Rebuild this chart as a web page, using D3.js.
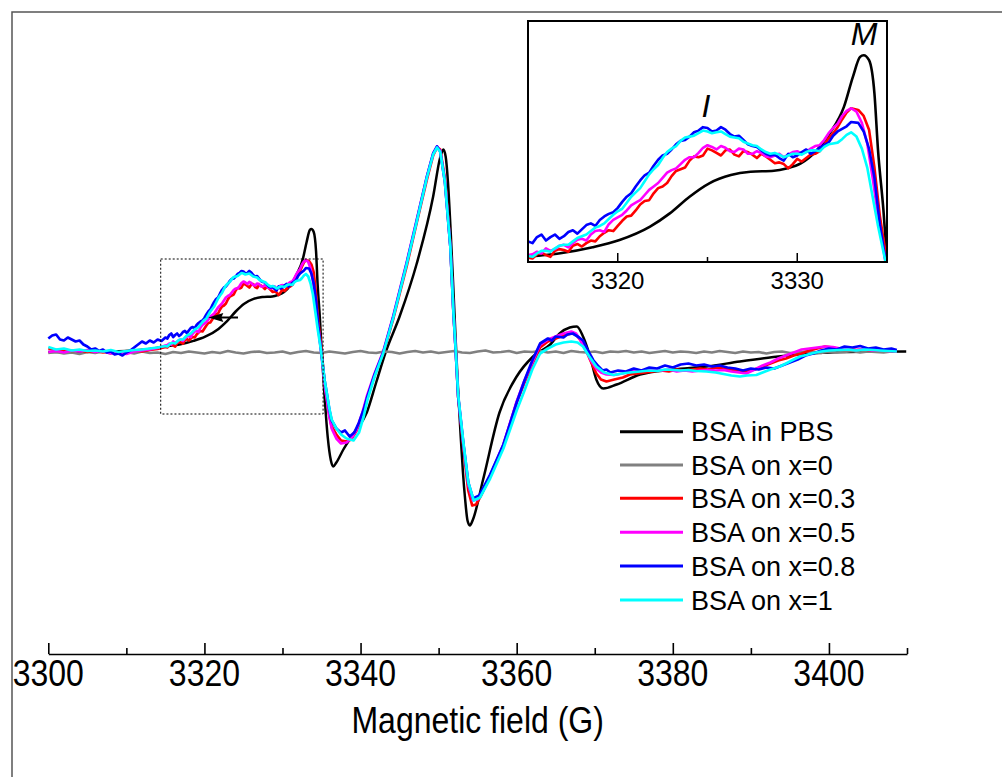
<!DOCTYPE html>
<html>
<head>
<meta charset="utf-8">
<title>EPR spectra of BSA</title>
<script src="https://cdn.jsdelivr.net/npm/d3@7"></script>
<style>
  html, body { margin: 0; padding: 0; background: #fff; }
  svg { display: block; font-family: "Liberation Sans", Arial, sans-serif; }
</style>
</head>
<body>
<svg id="chart" width="1002" height="777"></svg>
<script>
'use strict';

// each series: [magnetic field (G), signal (a.u.)]
const bsaInPBS = [
  [3300,0.5],[3303,0.5],[3306,0.8],[3309,1.2],[3311,2],[3313,3.5],[3314.3,5],[3315.1,6.1],[3316.8,8.1],
  [3318.6,11.6],[3320.1,15.8],[3321.8,23.6],[3322.9,31.3],[3324.0,41.0],[3325.1,48.8],[3326.3,53.6],
  [3327.4,55.5],[3328.7,56.1],[3329.4,57.5],[3330.2,60.4],[3331.1,68.1],[3331.8,77.8],[3332.6,93.3],
  [3333.1,110.8],[3333.5,122.4],[3333.7,123.4],[3334.0,120.5],[3334.3,101.1],[3334.5,68.1],[3334.8,33.3],
  [3335.0,4.2],[3335.4,-45],[3335.8,-85],[3336.2,-108],[3336.5,-114],[3336.9,-110],[3337.8,-97],
  [3339.2,-80],[3340.8,-60],[3342.0,-30],[3343.2,0],[3345.0,36],[3347.2,89],[3349.3,156],[3350.2,195],
  [3350.6,203],[3350.9,196],[3351.2,170],[3351.5,128],[3351.9,62],[3352.2,10],[3352.5,-38],[3352.8,-80],
  [3353.1,-118],[3353.4,-147],[3353.7,-168],[3354.0,-173],[3354.4,-167],[3355.7,-127],[3357.8,-60],
  [3360.0,-24],[3362.1,-4],[3364.3,8],[3365.5,19],[3366.8,25],[3367.7,26],[3368.5,16],[3369.4,-4],
  [3370.2,-27],[3371.1,-36],[3372.8,-32],[3375.8,-22],[3380.1,-17],[3384.3,-14],[3388.6,-9],
  [3392.9,-4.6],[3397.1,-1.3],[3401.4,0.4],[3405,0.8],[3409.9,1]
];

const bsaX0 = [
  [3300,-0.5],[3301,0.5],[3302,-1],[3303,0],[3304,-1.5],[3305,0.5],[3306,-0.5],[3307,1],[3308,-1],[3309,0],
  [3310,0.5],[3311,-1],[3312,1],[3313,-0.5],[3314,0],[3315,-1.5],[3316,0.5],[3317,-0.5],[3318,1],[3319,0],
  [3320,-1],[3321,0.5],[3322,-0.5],[3323,1.5],[3324,0],[3325,-1],[3326,0.5],[3327,1],[3328,-0.5],[3329,0],
  [3330,1],[3331,-1],[3332,0.5],[3333,1.5],[3334,0],[3335,-0.5],[3336,1],[3337,0],[3338,-1],[3339,0.5],
  [3340,1.5],[3341,0],[3342,-0.5],[3343,1],[3344,0.5],[3345,-1],[3346,0.5],[3347,1.5],[3348,0],[3349,1],
  [3350,-0.5],[3351,0.5],[3352,1.5],[3353,0],[3354,-0.5],[3355,1],[3356,2],[3357,0],[3358,0.5],[3359,1.5],
  [3360,-0.5],[3361,1],[3362,0.5],[3363,1.5],[3364,0],[3365,1],[3366,-0.5],[3367,1.5],[3368,0.5],[3369,0],
  [3370,1],[3371,-0.5],[3372,1],[3373,0.5],[3374,1.5],[3375,0],[3376,1],[3377,-0.5],[3378,0.5],[3379,1.5],
  [3380,0],[3381,1],[3382,0.5],[3383,-0.5],[3384,1],[3385,0],[3386,1.5],[3387,0.5],[3388,-0.5],[3389,1],
  [3390,0],[3391,0.5],[3392,-1],[3393,0.5],[3394,1],[3395,-0.5],[3396,0],[3397,1],[3398,0.5],[3399,-0.5],
  [3400,1],[3401,0],[3402,0.5],[3403,1.5],[3404,0],[3405,1],[3406,0.5],[3407,0],[3408,1]
];

const bsaX03 = [
  [3300,4],[3301,2.5],[3302,3],[3303,1.5],[3304,2],[3305,0.5],[3306,1.5],[3307,0],[3308,1],[3309,-0.5],
  [3310,1.5],[3311,2],[3312,1],[3313,2.5],[3314,3.5],[3315,5.5],
  [3315.25,5],[3315.5,7.5],[3315.75,8.5],[3316,7],[3316.25,6],[3316.5,9.5],[3316.75,10.5],[3317,10],
  [3317.25,9],[3317.5,12.5],[3317.75,13.5],[3318,12],[3318.25,14],[3318.5,15.5],[3318.75,15],[3319,18],
  [3319.25,20],[3319.5,21.5],[3319.75,21],[3320,24],[3320.25,27],[3320.5,29.5],[3320.75,30],[3321,33],
  [3321.25,36.5],[3321.5,38.5],[3321.75,39],[3322,43],[3322.25,46],[3322.5,47],[3322.75,49],[3323,53],
  [3323.25,56],[3323.5,57],[3323.75,58],[3324,62],[3324.25,64.5],[3324.5,64],[3324.75,65],[3325,69],
  [3325.25,68],[3325.5,66.5],[3325.75,65],[3326,68],[3326.25,68.5],[3326.5,65.5],[3326.75,64.5],[3327,67.5],
  [3327.25,67],[3327.5,65.5],[3327.75,63.5],[3328,66],[3328.25,64.5],[3328.5,62.5],[3328.75,60.5],[3329,61],
  [3329.25,60],[3329.5,57.5],[3329.75,60],[3330,63],[3330.25,61.5],[3330.5,63.5],[3330.75,65.5],[3331,66],
  [3331.25,67.5],[3331.5,71],[3331.75,75],[3332,78],[3332.25,81.5],[3332.5,86],[3332.75,90],
  [3333,92.5],[3333.4,91.5],[3333.7,88],[3334,80],[3334.3,58],[3334.6,30],[3335,3],
  [3335.4,-32],[3335.7,-47],[3336,-63],[3336.3,-74],[3336.9,-82],[3337.5,-88],[3338.2,-89],[3338.8,-87],
  [3339.5,-78],[3340.2,-63],[3340.8,-47],[3341.8,-23],[3342.9,-1],[3344.2,34],[3345.9,86],[3347.2,130],
  [3348.5,173],[3349.3,197],[3349.8,205],[3350.2,203],[3350.8,174],[3351.5,108],[3351.9,41],[3352.2,1],
  [3352.5,-44],[3353.2,-97],[3353.8,-138],[3354.3,-153],[3354.8,-152],[3355.5,-142],[3356.6,-124],
  [3358.3,-93],[3360,-50],[3361,-30],[3362,-12],[3363,5],[3364,11],[3365,14],[3366,17],[3367,19],
  [3367.6,18],[3368.2,12],[3368.9,2],[3369.5,-9],[3370.2,-21],[3370.8,-27],[3371.5,-29],[3372.5,-27],
  [3373.6,-25],[3374.5,-22],[3375.5,-21],[3376.5,-20],[3377.5,-19],[3378.5,-18],[3379.5,-19],[3380.5,-17],
  [3381.5,-18],[3382.5,-17],[3383.5,-16],[3384.5,-17],[3385.5,-15],[3386.5,-16],[3387.5,-17],[3388.5,-18],
  [3389.4,-19],[3390.5,-17],[3391.5,-14],[3392.5,-11],[3393.5,-8],[3394.5,-6],[3395.5,-3],[3396.5,-1],
  [3397.5,2],[3398.5,4],[3399.5,6],[3400.5,5],[3401.5,3],[3402.5,4],[3403.5,2.5],[3404.5,3],[3405.5,2],
  [3406.5,2.5],[3407.5,1.5],[3408.7,1]
];

const bsaX05 = [
  [3300,0.5],[3301,1.5],[3302,0],[3303,2],[3304,1],[3305,2.5],[3306,0.5],[3307,1.5],[3308,-1],[3309,0],
  [3310,-1.5],[3311,1],[3312,2],[3313,3],[3314,4.5],[3315,7],
  [3315.25,7.5],[3315.5,9],[3315.75,8],[3316,11],[3316.25,9.5],[3316.5,10.5],[3316.75,12.5],[3317,13],
  [3317.25,11.5],[3317.5,14],[3317.75,16],[3318,16.5],[3318.25,15.5],[3318.5,19],[3318.75,21],[3319,21.5],
  [3319.25,20.5],[3319.5,25],[3319.75,27.5],[3320,29],[3320.25,30.5],[3320.5,33],[3320.75,36],[3321,37.5],
  [3321.25,39],[3321.5,42],[3321.75,45],[3322,47],[3322.25,49],[3322.5,52],[3322.75,55],[3323,56.5],
  [3323.25,57.5],[3323.5,60],[3323.75,62.5],[3324,64],[3324.25,64],[3324.5,66.5],[3324.75,69.5],[3325,71],
  [3325.25,70],[3325.5,68.5],[3325.75,70.5],[3326,69.5],[3326.25,67.5],[3326.5,67],[3326.75,69],[3327,68.5],
  [3327.25,66],[3327.5,66],[3327.75,67.5],[3328,66.5],[3328.25,64.5],[3328.5,64],[3328.75,65],[3329,66],
  [3329.25,64],[3329.5,65.5],[3329.75,67],[3330,67.5],[3330.25,66],[3330.5,67],[3330.75,69],[3331,70.5],
  [3331.25,71],[3331.5,74],[3331.75,78],[3332,81],[3332.25,83.5],[3332.5,88],[3332.75,91],
  [3333,92.5],[3333.3,90.5],[3333.6,84],[3333.9,72],[3334.2,52],[3334.5,30],[3334.9,4],
  [3335.4,-33],[3335.7,-48],[3336,-64],[3336.3,-76],[3336.9,-86],[3337.5,-91],[3338.2,-90],[3338.8,-86],
  [3339.5,-77],[3340.2,-61],[3340.8,-44],[3341.8,-21],[3342.9,1],[3344.2,37],[3345.9,90],[3347.2,133],
  [3348.5,176],[3349.3,199],[3349.8,206],[3350.2,202],[3350.8,172],[3351.5,106],[3351.9,39],[3352.2,0],
  [3352.5,-43],[3353.2,-94],[3353.8,-132],[3354.4,-148],[3355,-147],[3355.6,-140],[3356.6,-123],
  [3358.3,-92],[3360,-49],[3361,-28],[3362,-10],[3363,8],[3364,13],[3365,16],[3366,19],[3367,21],
  [3367.6,19],[3368.2,12],[3368.9,2],[3369.5,-8],[3370.2,-16],[3370.8,-20],[3371.5,-22],[3372.5,-22.5],
  [3373.5,-21],[3374.5,-19],[3375.5,-18],[3376.5,-17.5],[3377.5,-17],[3378.5,-18],[3379.5,-17],[3380.5,-19],
  [3381.5,-18],[3382.5,-19],[3383.5,-18],[3384.5,-17.5],[3385.5,-18],[3386.5,-17.5],[3387.5,-19],
  [3388.5,-20],[3389.4,-21],[3390.5,-17],[3391.5,-13],[3392.5,-10],[3393.5,-6],[3394.5,-3],[3395.5,0],
  [3396.5,3],[3397.5,4],[3398.5,5],[3399.5,6],[3400.5,5.5],[3401.5,4],[3402.5,3],[3403.5,2.5],[3404.5,3.5],
  [3405.5,2],[3406.5,2.5],[3407.5,1.5],[3408.7,1]
];

const bsaX08 = [
  [3300,14],[3300.5,17],[3301,18],[3301.5,13],[3302,12],[3302.5,15],[3303,13],[3303.5,11],[3304,12],
  [3304.5,8],[3305,6],[3305.5,3],[3306,4],[3306.5,1.5],[3307,3],[3307.5,0],[3308,1],[3308.5,-2],[3309,-1],
  [3309.5,-3],[3310,0],[3310.5,2],[3311,5],[3311.5,8],[3312,11],[3312.5,9],[3313,12],[3313.5,10],[3314,13],
  [3314.5,11.5],[3315,15],
  [3315.25,14],[3315.5,17.5],[3315.75,19],[3316,15.5],[3316.25,17.5],[3316.5,19],[3316.75,16.5],[3317,18],
  [3317.25,20.5],[3317.5,21.5],[3317.75,19.5],[3318,22],[3318.25,24.5],[3318.5,25.5],[3318.75,24],
  [3319,27.5],[3319.25,29.5],[3319.5,31],[3319.75,32],[3320,34.5],[3320.25,38],[3320.5,41],[3320.75,43],
  [3321,47],[3321.25,50.5],[3321.5,53.5],[3321.75,55],[3322,59],[3322.25,62.5],[3322.5,65],[3322.75,66],
  [3323,68.5],[3323.25,71.5],[3323.5,73.5],[3323.75,74],[3324,76],[3324.25,78.5],[3324.5,79.5],
  [3324.75,81.5],[3325,81],[3325.25,79],[3325.5,79.5],[3325.75,81.5],[3326,80],[3326.25,77.5],[3326.5,76],
  [3326.75,76.5],[3327,74],[3327.25,71.5],[3327.5,70.5],[3327.75,70],[3328,68],[3328.25,66],[3328.5,65],
  [3328.75,65.5],[3329,63.5],[3329.25,62],[3329.5,66],[3329.75,64],[3330,65],[3330.25,67],[3330.5,68.5],
  [3330.75,66],[3331,67.5],[3331.25,69.5],[3331.5,71],[3331.75,72.5],[3332,76.5],[3332.25,79],[3332.5,80.5],
  [3332.75,82],[3333,84.5],[3333.4,84],[3333.7,79],[3334,69],[3334.3,52],[3334.6,25],[3334.9,5],
  [3335.4,-28],[3335.7,-42],[3336,-57],[3336.3,-68],[3336.9,-76],[3337.5,-80],[3338,-78],[3338.6,-84],
  [3339.2,-80],[3339.8,-70],[3340.4,-57],[3340.8,-46],[3341.8,-22],[3342.9,0],[3344.2,36],[3345.9,89],
  [3347.2,132],[3348.5,176],[3349.3,199],[3349.8,206],[3350.2,201],[3350.8,171],[3351.5,106],[3351.9,40],
  [3352.2,0],[3352.5,-44],[3353.2,-93],[3353.8,-130],[3354.4,-146],[3355.2,-143],[3356.6,-122],
  [3358.3,-92],[3360,-50],[3361,-28],[3362,-8],[3363,9],[3364,14],[3364.5,12],[3365,16],[3366,15],
  [3366.5,18],[3367.2,19],[3368,15],[3368.5,12],[3369.2,1],[3369.8,-7.5],[3370.5,-14],[3371,-18],
  [3371.5,-17],[3372,-20],[3373,-18],[3374,-19],[3375,-16],[3376,-18],[3377,-15],[3378,-16],[3379,-13],
  [3380,-15],[3381,-12],[3382,-11],[3383,-13],[3384,-12],[3385,-14],[3386,-13],[3387,-15],[3388,-16],
  [3389,-18],[3390,-16],[3391,-17],[3392,-15],[3393,-16],[3394,-13],[3395,-10],[3396,-7],[3397,-3],
  [3398,-1],[3399,2],[3400,4],[3401,3],[3402,6],[3403,5],[3404,6.5],[3405,4],[3406,5],[3407,3],[3408,4],
  [3408.7,2.5]
];

const bsaX1 = [
  [3300,5.5],[3301,3],[3302,4],[3303,2],[3304,3],[3305,1.5],[3306,2],[3307,1],[3308,2.5],[3309,0.5],
  [3310,1.5],[3311,2.5],[3312,3],[3313,4],[3314,5],[3315,6.5],
  [3315.25,6],[3315.5,8],[3315.75,9.5],[3316,9.5],[3316.25,9],[3316.5,11],[3316.75,12.5],[3317,13],
  [3317.25,13],[3317.5,15],[3317.75,17],[3318,18],[3318.25,19],[3318.5,21],[3318.75,23],[3319,24],
  [3319.25,25.5],[3319.5,28],[3319.75,30.5],[3320,32.5],[3320.25,34],[3320.5,37.5],[3320.75,41],[3321,43.5],
  [3321.25,46],[3321.5,50],[3321.75,54],[3322,57],[3322.25,59.5],[3322.5,63.5],[3322.75,67],[3323,69],
  [3323.25,70.5],[3323.5,73.5],[3323.75,75.5],[3324,76],[3324.25,76.5],[3324.5,78],[3324.75,79.5],[3325,79],
  [3325.25,78],[3325.5,78.5],[3325.75,79],[3326,77.5],[3326.25,76],[3326.5,75.5],[3326.75,75],[3327,73],
  [3327.25,72],[3327.5,71],[3327.75,70.5],[3328,68.5],[3328.25,67],[3328.5,66],[3328.75,66.5],[3329,65.5],
  [3329.25,64],[3329.5,65],[3329.75,66],[3330,66],[3330.25,65.5],[3330.5,67],[3330.75,68],[3331,68],
  [3331.25,67.5],[3331.5,70],[3331.75,71.5],[3332,72],[3332.25,72.5],[3332.5,74.5],[3332.75,77],
  [3333,78.5],[3333.3,76],[3333.6,69],[3333.9,58],[3334.2,41],[3334.5,24],[3334.9,4],
  [3335.4,-28],[3335.7,-42],[3336,-56],[3336.3,-67],[3336.9,-76],[3337.5,-82],[3338.2,-86],[3339.1,-88],
  [3339.8,-80],[3340.4,-64],[3340.9,-47],[3341.8,-24],[3342.9,-1],[3344.2,35],[3345.9,88],[3347.2,131],
  [3348.5,175],[3349.3,198],[3349.8,205],[3350.2,201],[3350.8,171],[3351.5,106],[3351.9,40],[3352.2,1],
  [3352.5,-42],[3353.2,-92],[3353.8,-130],[3354.5,-148],[3355.3,-145],[3356.6,-126],[3358.3,-96],
  [3360,-58],[3361,-38],[3362,-17],[3363,-1],[3364,4],[3365,8],[3366,10],[3367,11],[3367.8,10],
  [3368.5,6],[3369.3,-4],[3370.2,-14],[3371.2,-20],[3372.4,-22.5],[3373.5,-21],[3374.5,-20],[3375.8,-19],
  [3377,-18],[3378,-18.5],[3379,-17],[3380.1,-17.5],[3381,-18],[3382,-17.5],[3383,-18.5],[3384.3,-19],
  [3385.5,-20],[3386.5,-21.5],[3387.5,-23],[3388.6,-24],[3389.5,-23],[3390.7,-22.5],[3391.5,-20],
  [3392.5,-17],[3393.7,-14],[3394.5,-11],[3395.5,-7],[3396.3,-4],[3397.1,-2.5],[3398,-0.5],[3399,1],
  [3400,2],[3401.4,2.5],[3402.5,3],[3403.5,2],[3404.5,3],[3405.7,2.5],[3406.5,2],[3407.5,1.5],[3408.7,1]
];

const seriesNames = ['BSA in PBS', 'BSA on x=0', 'BSA on x=0.3', 'BSA on x=0.5', 'BSA on x=0.8', 'BSA on x=1'];
const seriesColors = ['#000000', '#808080', '#ff0000', '#ff00ff', '#0000ff', '#00ffff'];
const seriesData = [bsaInPBS, bsaX0, bsaX03, bsaX05, bsaX08, bsaX1];

const majorTicks = [3300, 3320, 3340, 3360, 3380, 3400];
const minorTicks = [3310, 3330, 3350, 3370, 3390, 3410];
const insetMajorTicks = [3320, 3330];
const insetMinorTicks = [3325];

const svg = d3.select('#chart');

// outer frame of the figure
svg.append('path')
    .attr('d', 'M12,777 V12 H1002')
    .attr('fill', 'none')
    .attr('stroke', '#555')
    .attr('stroke-width', 1.5);

// main plot
const x = d3.scaleLinear().domain([3300, 3410]).range([48.3, 907]);
const y = d3.scaleLinear().domain([0, 100]).range([352.5, 252.5]);

const mainLine = d3.line().x(d => x(d[0])).y(d => y(d[1]));

const main = svg.append('g');
seriesData.forEach((data, i) => {
    main.append('path')
        .datum(data)
        .attr('fill', 'none')
        .attr('stroke', seriesColors[i])
        .attr('stroke-width', i === 0 ? 2.5 : 2.7)
        .attr('stroke-linejoin', 'round')
        .attr('d', mainLine.curve(i === 0 ? d3.curveMonotoneX : d3.curveLinear));
});

// dotted box marking the zoomed region
const zoomBox = {x0: 3314.4, x1: 3335.2, v0: -61.5, v1: 93.5};
svg.append('rect')
    .attr('x', x(zoomBox.x0))
    .attr('y', y(zoomBox.v1))
    .attr('width', x(zoomBox.x1) - x(zoomBox.x0))
    .attr('height', y(zoomBox.v0) - y(zoomBox.v1))
    .attr('fill', 'none')
    .attr('stroke', '#000')
    .attr('stroke-width', 1)
    .attr('stroke-dasharray', '2,2');

// arrow
const arrowFrom = [3324.3, 35], arrowTo = [3320.5, 35];
svg.append('line')
    .attr('x1', x(arrowFrom[0])).attr('y1', y(arrowFrom[1]))
    .attr('x2', x(arrowTo[0]) + 12).attr('y2', y(arrowTo[1]))
    .attr('stroke', '#000').attr('stroke-width', 2);
const tipX = x(arrowTo[0]), tipY = y(arrowTo[1]);
svg.append('path')
    .attr('d', `M${tipX},${tipY} L${tipX + 15},${tipY - 4.5} L${tipX + 13},${tipY} L${tipX + 15},${tipY + 4.5} Z`)
    .attr('fill', '#000');

// x axis
const axisY = 654;
svg.append('g')
    .attr('transform', `translate(0,${axisY})`)
    .call(d3.axisBottom(x).tickValues(majorTicks).tickSizeInner(-11).tickSizeOuter(0).tickFormat(''));
const minorAxis = svg.append('g')
    .attr('transform', `translate(0,${axisY})`)
    .call(d3.axisBottom(x).tickValues(minorTicks).tickSizeInner(-6).tickSizeOuter(0).tickFormat(''));
minorAxis.select('.domain').remove();
svg.selectAll('.domain, .tick line').attr('stroke', '#000').attr('stroke-width', 1.6);

svg.append('g').selectAll('text')
    .data(majorTicks)
    .join('text')
    .attr('transform', d => `translate(${x(d)},686) scale(1,1.15)`)
    .attr('text-anchor', 'middle')
    .style('font-size', '32px')
    .attr('fill', '#000')
    .text(d => d);

svg.append('text')
    .attr('transform', `translate(${(x.range()[0] + x.range()[1]) / 2},733) scale(1,1.15)`)
    .attr('text-anchor', 'middle')
    .style('font-size', '32px')
    .attr('fill', '#000')
    .text('Magnetic field (G)');

// legend
const legend = svg.append('g');
const legendRows = [431.7, 465, 498.3, 532.3, 566, 600];
seriesNames.forEach((name, i) => {
    legend.append('line')
        .attr('x1', 620).attr('x2', 683)
        .attr('y1', legendRows[i]).attr('y2', legendRows[i])
        .attr('stroke', seriesColors[i])
        .attr('stroke-width', 3);
    legend.append('text')
        .attr('x', 691)
        .attr('y', legendRows[i] + 9.5)
        .style('font-size', '27px')
        .attr('fill', '#000')
        .text(name);
});

// inset
const ix = d3.scaleLinear().domain([3315, 3335]).range([528, 887]);
const iy = d3.scaleLinear().domain([3, 143.3]).range([262, 21]);

svg.append('clipPath').attr('id', 'insetClip')
    .append('rect')
    .attr('x', 528).attr('y', 21).attr('width', 359).attr('height', 241);

const insetLine = d3.line().x(d => ix(d[0])).y(d => iy(d[1]));
const inset = svg.append('g').attr('clip-path', 'url(#insetClip)');
seriesData.forEach((data, i) => {
    if (i === 1) return;
    const part = data.filter(d => d[0] >= 3314 && d[0] <= 3336);
    inset.append('path')
        .datum(part)
        .attr('fill', 'none')
        .attr('stroke', seriesColors[i])
        .attr('stroke-width', 2.6)
        .attr('stroke-linejoin', 'round')
        .attr('d', insetLine.curve(i === 0 ? d3.curveMonotoneX : d3.curveLinear));
});

svg.append('rect')
    .attr('x', 528).attr('y', 21).attr('width', 359).attr('height', 241)
    .attr('fill', 'none')
    .attr('stroke', '#000')
    .attr('stroke-width', 2);

const insetAxis = svg.append('g').attr('transform', 'translate(0,262)');
insetAxis.selectAll('.major')
    .data(insetMajorTicks)
    .join('line')
    .attr('x1', d => ix(d)).attr('x2', d => ix(d))
    .attr('y1', 0).attr('y2', -9)
    .attr('stroke', '#000').attr('stroke-width', 1.5);
insetAxis.selectAll('.minor')
    .data(insetMinorTicks)
    .join('line')
    .attr('x1', d => ix(d)).attr('x2', d => ix(d))
    .attr('y1', 0).attr('y2', -5)
    .attr('stroke', '#000').attr('stroke-width', 1.5);
insetAxis.selectAll('text')
    .data(insetMajorTicks)
    .join('text')
    .attr('x', d => ix(d))
    .attr('y', 27)
    .attr('text-anchor', 'middle')
    .style('font-size', '24px')
    .attr('fill', '#000')
    .text(d => d);

// peak labels
svg.append('text')
    .attr('x', 864).attr('y', 45)
    .attr('text-anchor', 'middle')
    .style('font-size', '32px')
    .style('font-style', 'italic')
    .text('M');
svg.append('text')
    .attr('x', 706).attr('y', 117)
    .attr('text-anchor', 'middle')
    .style('font-size', '32px')
    .style('font-style', 'italic')
    .text('I');
</script>
</body>
</html>
